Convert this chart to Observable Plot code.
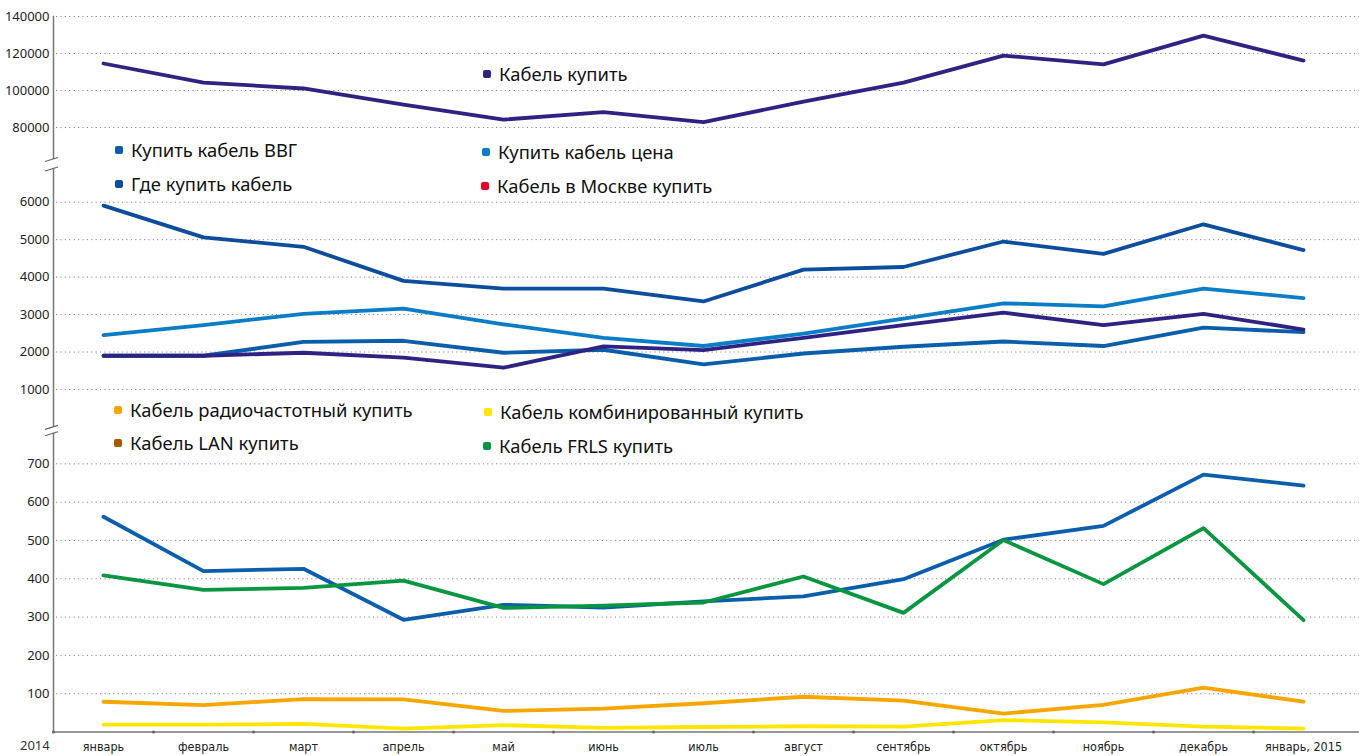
<!DOCTYPE html>
<html>
<head>
<meta charset="utf-8">
<script src="https://cdn.jsdelivr.net/npm/d3@7"></script>
<script src="https://cdn.jsdelivr.net/npm/@observablehq/plot@0.6"></script>
<style>
  html, body { margin: 0; padding: 0; background: #fff; }
  #wrap { position: relative; width: 1359px; height: 756px; overflow: hidden; font-family: "Noto Sans", sans-serif; }
  #wrap svg { position: absolute; left: 0; top: 0; background: transparent; overflow: visible; }
  .lg { position: absolute; font-family: "Noto Sans", sans-serif; font-size: 18.4px; color: #111; white-space: nowrap; line-height: 20px; }
  .lg i { display: inline-block; width: 8px; height: 8px; border-radius: 2px; margin-right: 8px; vertical-align: 3px; }
  .yr { position: absolute; font-family: "Noto Sans", sans-serif; font-size: 13px; color: #333; }
</style>
</head>
<body>
<div id="wrap"></div>
<script>
const months = ["январь","февраль","март","апрель","май","июнь","июль","август","сентябрь","октябрь","ноябрь","декабрь","январь, 2015"];

// top panel
const kabelKupit = [114600,104300,101100,92400,84300,88300,82900,94000,104300,118900,114100,129700,116200];
const topTicks = [80000,100000,120000,140000];

// middle panel
const kupitVVG   = [1900,1900,2270,2300,1980,2060,1670,1960,2140,2280,2160,2650,2530];
const kupitCena  = [2450,2720,3020,3160,2740,2380,2160,2490,2890,3300,3220,3690,3440];
const gdeKupit   = [5910,5060,4810,3900,3690,3690,3350,4200,4270,4950,4620,5410,4720];
const vMoskve    = [1900,1900,1980,1850,1580,2150,2050,2380,2720,3050,2720,3020,2600];
const midTicks = [1000,2000,3000,4000,5000,6000];

// bottom panel
const lanKupit   = [562,420,426,293,332,325,341,354,399,502,538,672,643];
const frlsKupit  = [409,371,376,395,324,330,338,406,311,501,386,532,292];
const radioKupit = [79,70,86,85,55,61,75,92,82,48,71,116,79];
const kombKupit  = [19,19,21,9,18,11,13,15,14,31,25,14,9];
const botTicks = [100,200,300,400,500,600,700];

const tidy = (series) => series.flatMap(([name, vals]) => vals.map((v, i) => ({month: months[i], value: v, series: name})));

const W = 1359, H = 756;
const tickFont = {fontSize: 13, fontFamily: "Noto Sans, sans-serif"};

function panel({data, names, colors, domain, ticks, marginTop, marginBottom, bottomAxis}) {
  const marks = [
    Plot.ruleY(ticks, {stroke: "#888", strokeDasharray: "1.2,3.2", strokeWidth: 1, insetLeft: 3, insetRight: -6}),
    Plot.frame({anchor: "left", stroke: "#777", strokeWidth: 1.5}),
    Plot.axisY(ticks, {tickSize: 0, tickPadding: 4, tickFormat: d3.format("d"), fill: "#222", label: null, ...tickFont}),
    Plot.lineY(data, {x: "month", y: "value", z: "series", stroke: "series", strokeWidth: 3.8, strokeLinecap: "round"})
  ];
  if (bottomAxis) {
    marks.push(
      Plot.ruleY([0], {stroke: "#777", strokeWidth: 1.5, insetRight: -6}),
      Plot.dot(months, {x: d => d, frameAnchor: "bottom", dx: -50, r: 1.6, fill: "#666"}),
      Plot.axisX({tickSize: 0, tickPadding: 10, fontSize: 12.5, fontFamily: "Liberation Sans Narrow, DejaVu Sans Condensed, sans-serif", fill: "#222", label: null})
    );
  } else {
    marks.push(Plot.axisX({ticks: [], label: null}));
  }
  return Plot.plot({
    width: W, height: H,
    marginLeft: 53, marginRight: 6, marginTop, marginBottom,
    x: {type: "band", domain: months, padding: 0, label: null},
    y: {domain, axis: null, label: null},
    color: {domain: names, range: colors},
    marks
  });
}

const wrap = document.getElementById("wrap");

wrap.appendChild(panel({
  data: tidy([["Кабель купить", kabelKupit]]),
  names: ["Кабель купить"], colors: ["#2e2383"],
  domain: [63000, 140000], ticks: topTicks,
  marginTop: 16, marginBottom: H - 158.5
}));

wrap.appendChild(panel({
  data: tidy([["Купить кабель ВВГ", kupitVVG], ["Купить кабель цена", kupitCena], ["Где купить кабель", gdeKupit], ["Кабель в Москве купить", vMoskve]]),
  names: ["Купить кабель ВВГ", "Купить кабель цена", "Где купить кабель", "Кабель в Москве купить"],
  colors: ["#0b5eab", "#0a7dc6", "#0d4d9d", "#2e2383"],
  domain: [0, 6900], ticks: midTicks,
  marginTop: 168, marginBottom: H - 426.4
}));

wrap.appendChild(panel({
  data: tidy([["Кабель LAN купить", lanKupit], ["Кабель FRLS купить", frlsKupit], ["Кабель радиочастотный купить", radioKupit], ["Кабель комбинированный купить", kombKupit]]),
  names: ["Кабель LAN купить", "Кабель FRLS купить", "Кабель радиочастотный купить", "Кабель комбинированный купить"],
  colors: ["#0b5eab", "#0a9640", "#f7a600", "#ffe600"],
  domain: [0, 780], ticks: botTicks,
  marginTop: 432.7, marginBottom: H - 731.5, bottomAxis: true
}));

// axis break marks
const ns = "http://www.w3.org/2000/svg";
const brk = document.createElementNS(ns, "svg");
brk.setAttribute("width", W); brk.setAttribute("height", H);
[[158.5, 168], [426.4, 432.7]].forEach(([a, b]) => {
  const rect = document.createElementNS(ns, "rect");
  rect.setAttribute("x", 50); rect.setAttribute("y", a + 0.5); rect.setAttribute("width", 6); rect.setAttribute("height", b - a - 1);
  rect.setAttribute("fill", "#fff");
  brk.appendChild(rect);
  [a + 3, b + 3].forEach(y => {
    const l = document.createElementNS(ns, "line");
    l.setAttribute("x1", 45); l.setAttribute("y1", y); l.setAttribute("x2", 58); l.setAttribute("y2", y - 4);
    l.setAttribute("stroke", "#666"); l.setAttribute("stroke-width", 1.2);
    brk.appendChild(l);
  });
});
wrap.appendChild(brk);

// legends
const legends = [
  ["Кабель купить", "#2e2383", 483, 64],
  ["Купить кабель ВВГ", "#0b5eab", 115, 140],
  ["Купить кабель цена", "#0a7dc6", 482, 142],
  ["Где купить кабель", "#0d4d9d", 115, 174],
  ["Кабель в Москве купить", "#e4002b", 481, 176],
  ["Кабель радиочастотный купить", "#f7a600", 114, 400],
  ["Кабель комбинированный купить", "#ffe600", 484, 402],
  ["Кабель LAN купить", "#a65a00", 114, 433],
  ["Кабель FRLS купить", "#0a9640", 483, 436]
];
legends.forEach(([t, c, x, y]) => {
  const d = document.createElement("div");
  d.className = "lg";
  d.style.left = x + "px"; d.style.top = y + "px";
  d.innerHTML = `<i style="background:${c}"></i>${t}`;
  wrap.appendChild(d);
});

const yr = document.createElement("div");
yr.className = "yr"; yr.textContent = "2014";
yr.style.left = "20px"; yr.style.top = "736px";
wrap.appendChild(yr);
</script>
</body>
</html>
